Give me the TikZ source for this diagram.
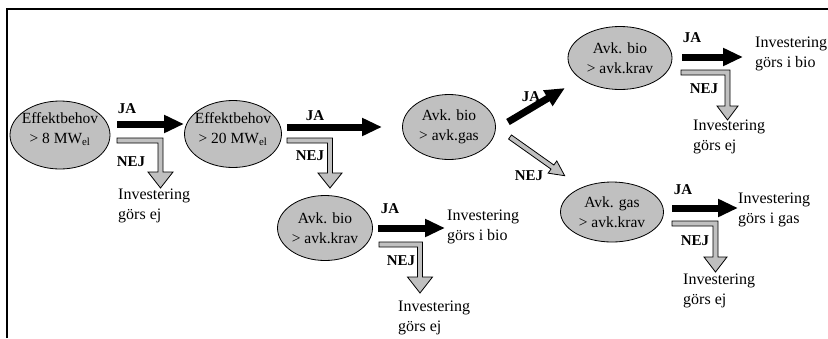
\documentclass[tikz,border=0pt]{standalone}
\usepackage{fontspec}
\setmainfont{Liberation Serif}
\usetikzlibrary{arrows.meta,shapes.geometric}
\definecolor{fillgray}{HTML}{C0C0C0}
\tikzset{
  decision/.style={ellipse, draw=black, line width=0.8pt, fill=fillgray, inner sep=0pt},
  dtext/.style={align=center, inner sep=0pt, font=\fontsize{15.5}{20}\selectfont},
  result/.style={anchor=west, align=left, inner sep=0pt, font=\fontsize{16}{20}\selectfont},
  lbl/.style={inner sep=0pt, font=\fontsize{15}{16}\selectfont\bfseries},
  yes/.style={line width=7pt, -{Triangle[length=20pt,width=17pt]}},
  nohollow/.style={draw=black, line width=0.8pt, fill=fillgray, line join=miter},
}
\newcommand{\nejbent}[6]{% x0, ytop, xc, ytri, ytip, tri half width
  \filldraw[nohollow] (#1,#2) -- ({#3+2.5},#2) -- ({#3+2.5},#4) -- ({#3+#6},#4) -- (#3,#5)
    -- ({#3-#6},#4) -- ({#3-2.5},#4) -- ({#3-2.5},{#2+5}) -- (#1,{#2+5}) -- cycle;}
\begin{document}
\begin{tikzpicture}[x=1pt,y=-1pt]
\useasboundingbox (0,0) rectangle (828,338);
% frame
\draw[line width=1.2pt] (7,338) -- (7,9) -- (828,9);

% decisions
\node[decision, minimum width=100pt, minimum height=68pt] (e1) at (60,135) {};
\node[dtext] (e1t) at (60,129) {Effektbehov\\> 8 MW\textsubscript{el}};
\node[decision, minimum width=97pt, minimum height=67pt] (e2) at (233,134) {};
\node[dtext] (e2t) at (233,129) {Effektbehov\\> 20 MW\textsubscript{el}};
\node[decision, minimum width=93pt, minimum height=65pt] (e3) at (449,127) {};
\node[dtext] (e3t) at (449,127) {Avk. bio\\> avk.gas};
\node[decision, minimum width=95pt, minimum height=65pt] (e4) at (325,228) {};
\node[dtext] (e4t) at (325,228) {Avk. bio\\> avk.krav};
\node[decision, minimum width=104pt, minimum height=63pt] (e5) at (620,58) {};
\node[dtext] (e5t) at (620,58) {Avk. bio\\> avk.krav};
\node[decision, minimum width=103pt, minimum height=60pt] (e6) at (612,212) {};
\node[dtext] (e6t) at (612,212) {Avk. gas\\> avk.krav};

% results
\node[result] (r1) at (118,206) {Investering\\görs ej};
\node[result] (r2) at (447,227) {Investering\\görs i bio};
\node[result] (r3) at (398,318) {Investering\\görs ej};
\node[result] (r4) at (755,54) {Investering\\görs i bio};
\node[result] (r5) at (693,137) {Investering\\görs ej};
\node[result] (r6) at (738,210) {Investering\\görs i gas};
\node[result] (r7) at (683,291) {Investering\\görs ej};

% labels
\node[lbl] (j1) at (127,109) {JA};
\node[lbl] (n1) at (131,162) {NEJ};
\node[lbl] (j2) at (315,116) {JA};
\node[lbl] (n2) at (310,156) {NEJ};
\node[lbl] (j4) at (390,209) {JA};
\node[lbl] (n4) at (401,261) {NEJ};
\node[lbl] (j3) at (531,97) {JA};
\node[lbl] (n3) at (529,176) {NEJ};
\node[lbl] (j5) at (692,38) {JA};
\node[lbl] (n5) at (704,89) {NEJ};
\node[lbl] (j6) at (683,190) {JA};
\node[lbl] (n6) at (695,241) {NEJ};

% JA arrows
\draw[yes] (117,124) -- (184,124);
\draw[yes] (287,127) -- (382,127);
\draw[yes] (378,228) -- (445,228);
\draw[yes] (682,57) -- (743,57);
\draw[yes] (672,208) -- (738,208);
\draw[yes] (508,122) -- (565,88);

% NEJ arrows
\nejbent{117}{138}{160.5}{172}{188}{12.5}
\nejbent{287}{138}{330}{173}{188}{12}
\nejbent{379}{242}{420}{277}{293}{12.5}
\nejbent{681}{70}{727.5}{106}{120}{10.5}
\nejbent{672}{221}{715.5}{257}{272}{11.5}
\begin{scope}[shift={(510,137)}, rotate=-35.3]
  \filldraw[nohollow] (0,-2.5) -- (52,-2.5) -- (52,-7.5) -- (67,0) -- (52,7.5) -- (52,2.5) -- (0,2.5) -- cycle;
\end{scope}
\end{tikzpicture}
\end{document}
